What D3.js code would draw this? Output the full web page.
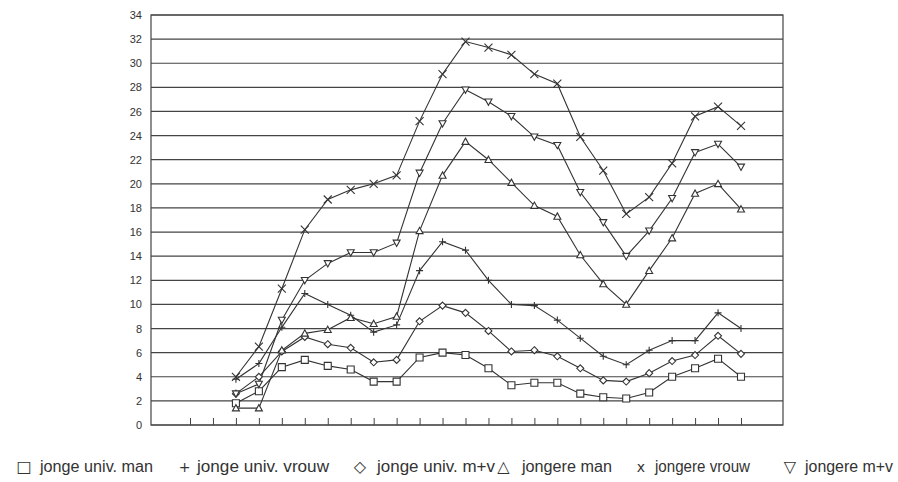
<!DOCTYPE html>
<html><head><meta charset="utf-8">
<script src="https://cdn.jsdelivr.net/npm/d3@7"></script>
<style>body{margin:0;background:#fff}svg{display:block}</style>
</head><body><svg id="c" width="898" height="482"></svg>
<script>
const positions = d3.range(-2, 23);           // x tick positions (categories)
const dataIdx = d3.range(0, 23);              // positions with data
const yTicks = d3.range(0, 35, 2);

const jongeUnivMan   = [1.8, 2.8, 4.8, 5.4, 4.9, 4.6, 3.6, 3.6, 5.6, 6.0, 5.8, 4.7, 3.3, 3.5, 3.5, 2.6, 2.3, 2.2, 2.7, 4.0, 4.7, 5.5, 4.0];
const jongeUnivVrouw = [3.8, 5.1, 8.1, 10.9, 10.0, 9.1, 7.7, 8.3, 12.8, 15.2, 14.5, 12.0, 10.0, 9.9, 8.7, 7.2, 5.7, 5.0, 6.2, 7.0, 7.0, 9.3, 8.0];
const jongeUnivMV    = [2.6, 4.0, 6.1, 7.3, 6.7, 6.4, 5.2, 5.4, 8.6, 9.9, 9.3, 7.8, 6.1, 6.2, 5.7, 4.7, 3.7, 3.6, 4.3, 5.3, 5.8, 7.4, 5.9];
const jongereMan     = [1.4, 1.4, 6.2, 7.6, 7.9, 8.9, 8.4, 9.0, 16.1, 20.7, 23.5, 22.0, 20.1, 18.2, 17.3, 14.1, 11.7, 10.0, 12.8, 15.5, 19.2, 20.0, 17.9];
const jongereVrouw   = [4.0, 6.5, 11.3, 16.2, 18.7, 19.5, 20.0, 20.7, 25.2, 29.1, 31.8, 31.3, 30.7, 29.1, 28.3, 23.9, 21.1, 17.5, 18.9, 21.7, 25.6, 26.4, 24.8];
const jongereMV      = [2.6, 3.4, 8.7, 12.0, 13.4, 14.3, 14.3, 15.1, 20.9, 25.0, 27.8, 26.8, 25.6, 23.9, 23.2, 19.3, 16.8, 14.0, 16.1, 18.8, 22.6, 23.3, 21.4];

const seriesNames = ["jonge univ. man", "jonge univ. vrouw", "jonge univ. m+v", "jongere man", "jongere vrouw", "jongere m+v"];
const seriesValues = [jongeUnivMan, jongeUnivVrouw, jongeUnivMV, jongereMan, jongereVrouw, jongereMV];
const legendGlyphs = ["\u25A1", "+", "\u25C7", "\u25B3", "x", "\u25BD"];
const markerTypes = ["square", "plus", "diamond", "tri", "cross", "triDown"];

const svg = d3.select("#c");
const L = 151, R = 783, T = 15, B = 425;
const x = d3.scaleLinear().domain([-2, 22]).range([190, 741]);
const y = d3.scaleLinear().domain([0, 34]).range([B, T]);
const ink = "#333";

svg.append("rect").attr("width", 898).attr("height", 482).attr("fill", "#fff");

// gridlines
svg.append("g").selectAll("line").data(yTicks).join("line")
  .attr("x1", L).attr("x2", R).attr("y1", d => y(d)).attr("y2", d => y(d))
  .attr("stroke", "#444").attr("stroke-width", 1.2);
// border
svg.append("rect").attr("x", L).attr("y", T).attr("width", R - L).attr("height", B - T)
  .attr("fill", "none").attr("stroke", "#444").attr("stroke-width", 1.2);

// y axis labels
const yAxis = d3.axisLeft(y).tickValues(yTicks).tickSize(0).tickPadding(9);
const ya = svg.append("g").attr("transform", `translate(${L},0)`).call(yAxis);
ya.select(".domain").remove();
ya.selectAll("text").attr("font-family", "Liberation Sans, Arial, sans-serif")
  .attr("font-size", 11).attr("fill", "#333");

// x ticks (inside, pointing up)
const xAxis = d3.axisTop(x).tickValues(positions).tickSize(7).tickFormat("");
const xa = svg.append("g").attr("transform", `translate(0,${B})`).call(xAxis);
xa.select(".domain").remove();
xa.selectAll("line").attr("transform", "translate(0,0)").attr("stroke", "#444");
xa.selectAll(".tick line").attr("y1", 0).attr("y2", -7);

// lines
const line = d3.line().x((d, i) => x(dataIdx[i])).y(d => y(d));
seriesValues.forEach(vals => {
  svg.append("path").attr("d", line(vals)).attr("fill", "none")
    .attr("stroke", ink).attr("stroke-width", 1.1);
});

function markerPath(t, s) {
  const h = s / 2;
  switch (t) {
    case "square": return `M${-h},${-h}H${h}V${h}H${-h}Z`;
    case "plus": return `M${-h},0H${h}M0,${-h}V${h}`;
    case "diamond": return `M0,${-h}L${h},0L0,${h}L${-h},0Z`;
    case "tri": return `M0,${-h}L${h},${h * 0.8}L${-h},${h * 0.8}Z`;
    case "triDown": return `M0,${h}L${h},${-h * 0.8}L${-h},${-h * 0.8}Z`;
    case "cross": return `M${-h},${-h}L${h},${h}M${h},${-h}L${-h},${h}`;
  }
}
seriesValues.forEach((vals, k) => {
  const t = markerTypes[k];
  const open = !(t === "plus" || t === "cross");
  svg.append("g").selectAll("path").data(vals).join("path")
    .attr("transform", (d, i) => `translate(${x(dataIdx[i])},${y(d)})`)
    .attr("d", markerPath(t, t === "cross" ? 8 : 7))
    .attr("fill", open ? "#fff" : "none").attr("stroke", ink).attr("stroke-width", 1.1);
});

// legend
const legY = 472;
const legTextX = [40, 197, 377, 522, 655, 805];
const legTextW = [113, 132, 118, 90, 95, 88];
const legSymX = [24, 184.5, 360, 503.5, 641, 790];
const lg = svg.append("g").attr("font-family", "Liberation Sans, Arial, sans-serif").attr("fill", "#333");
seriesNames.forEach((n, k) => {
  lg.append("text").attr("x", legTextX[k]).attr("y", legY).attr("font-size", 16)
    .attr("textLength", legTextW[k]).attr("lengthAdjust", "spacingAndGlyphs").text(n);
  lg.append("text").attr("x", legSymX[k]).attr("y", legY).attr("text-anchor", "middle")
    .attr("font-family", "DejaVu Sans, sans-serif")
    .attr("font-size", k === 1 || k === 4 ? 14 : 16).text(legendGlyphs[k]);
});
</script></body></html>
